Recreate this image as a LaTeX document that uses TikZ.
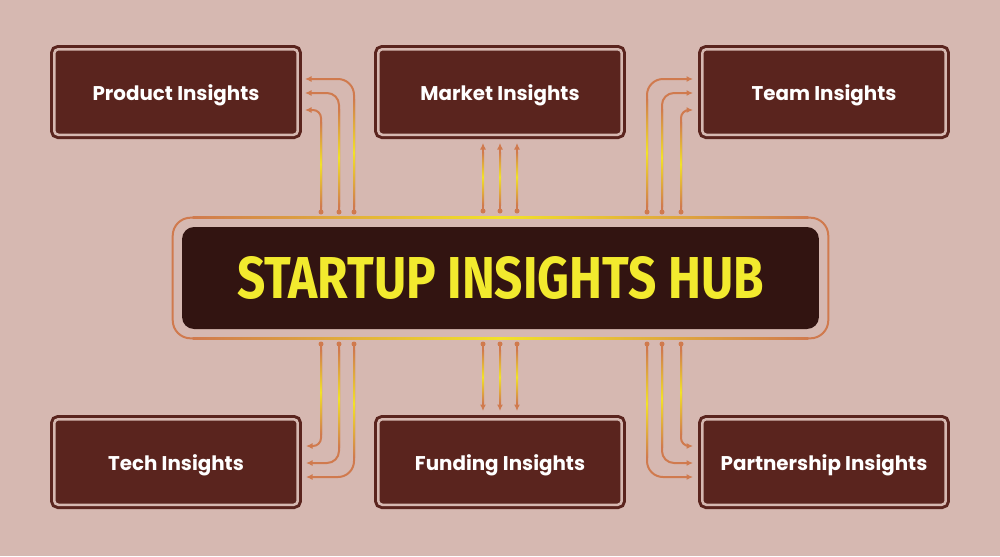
\documentclass[tikz,border=0pt]{standalone}
\usepackage{graphicx}
\usepackage{fontspec}
\setmainfont{Poppins}
\newfontfamily\hubfont{Fira Sans}
\usetikzlibrary{arrows.meta,positioning,fit}
\definecolor{pagebg}{RGB}{214,184,177}
\definecolor{boxbrown}{RGB}{90,36,30}
\definecolor{hubdark}{RGB}{50,20,17}
\definecolor{linkorange}{RGB}{208,122,78}
\definecolor{linkyellow}{RGB}{242,226,40}
\definecolor{hubyellow}{RGB}{242,234,46}

\tikzset{
  insight/.style={draw=boxbrown, line width=0.06cm, double=pagebg, double distance=0.05cm,
    fill=boxbrown, rounded corners=0.08cm, minimum width=4.87cm, minimum height=1.71cm,
    text=white, text height=0.32cm, text depth=0pt, font=\bfseries\fontsize{11.3}{13}\selectfont},
  hubbox/.style={fill=hubdark, rounded corners=0.24cm, minimum width=12.74cm,
    minimum height=2.04cm, inner sep=0pt, text=hubyellow},
  hubring/.style={draw=linkorange, line width=0.04cm, rounded corners=0.36cm,
    inner sep=0.18cm, outer sep=0pt},
  link/.style={draw=linkorange, line width=0.04cm, -{Latex[length=0.13cm,width=0.12cm]}},
  linkdot/.style={fill=linkorange},
}

\begin{document}
\begin{tikzpicture}[x=0.02cm, y=-0.02cm]
    \useasboundingbox[fill=pagebg] (0,0) rectangle (1000,556);

    % central hub
    \node[hubbox] (hub) at (500.5,278)
        {\resizebox{10.54cm}{0.84cm}{\hubfont\bfseries STARTUP INSIGHTS HUB}};
    \node[hubring, fit=(hub)] (ring) {};
    \shade[left color=linkorange, right color=linkorange, middle color=linkyellow]
        ([xshift=0.4cm,yshift=-0.02cm]ring.north west) rectangle ([xshift=-0.4cm,yshift=0.02cm]ring.north east);
    \shade[left color=linkorange, right color=linkorange, middle color=linkyellow]
        ([xshift=0.4cm,yshift=-0.02cm]ring.south west) rectangle ([xshift=-0.4cm,yshift=0.02cm]ring.south east);

    % insight boxes
    \node[insight] (prod) at (176,92) {Product Insights};
    \node[insight] (mark) at (500,92) {Market Insights};
    \node[insight] (team) at (824,92) {Team Insights};
    \node[insight] (tech) at (176,462) {Tech Insights};
    \node[insight] (fund) at (500,462) {Funding Insights};
    \node[insight] (part) at (824,462) {Partnership Insights};

    % product links
    \foreach \i/\x/\y/\r in {1/321/110/8, 2/339/93/12, 3/354/79/16} {
        \coordinate (prodA\i) at (\x,212);
        \coordinate (prodB\i) at (305,\y);
        \draw[link, rounded corners=\r*0.02cm] (prodA\i) |- (prodB\i);
        \shade[top color=linkorange, bottom color=linkorange, middle color=linkyellow]
            (\x-1,\y+\r+4) rectangle (\x+1,206);
        \fill[linkdot] (prodA\i) circle (0.05cm);
    }
    % team links
    \foreach \i/\x/\y/\r in {1/647/79/16, 2/662/93/12, 3/681/110/8} {
        \coordinate (teamA\i) at (\x,212);
        \coordinate (teamB\i) at (693,\y);
        \draw[link, rounded corners=\r*0.02cm] (teamA\i) |- (teamB\i);
        \shade[top color=linkorange, bottom color=linkorange, middle color=linkyellow]
            (\x-1,\y+\r+4) rectangle (\x+1,206);
        \fill[linkdot] (teamA\i) circle (0.05cm);
    }
    % tech links
    \foreach \i/\x/\y/\r in {1/321/446/8, 2/339/463/12, 3/354/477/16} {
        \coordinate (techA\i) at (\x,344);
        \coordinate (techB\i) at (306,\y);
        \draw[link, rounded corners=\r*0.02cm] (techA\i) |- (techB\i);
        \shade[top color=linkorange, bottom color=linkorange, middle color=linkyellow]
            (\x-1,350) rectangle (\x+1,\y-\r-4);
        \fill[linkdot] (techA\i) circle (0.05cm);
    }
    % partnership links
    \foreach \i/\x/\y/\r in {1/647/477/16, 2/662/463/12, 3/681/446/8} {
        \coordinate (partA\i) at (\x,344);
        \coordinate (partB\i) at (693,\y);
        \draw[link, rounded corners=\r*0.02cm] (partA\i) |- (partB\i);
        \shade[top color=linkorange, bottom color=linkorange, middle color=linkyellow]
            (\x-1,350) rectangle (\x+1,\y-\r-4);
        \fill[linkdot] (partA\i) circle (0.05cm);
    }
    % market and funding links
    \foreach \i/\x in {1/483, 2/500, 3/517} {
        \coordinate (markA\i) at (\x,211);
        \coordinate (markB\i) at (\x,143);
        \draw[link] (markA\i) -- (markB\i);
        \shade[top color=linkorange, bottom color=linkyellow]
            (\x-1,152) rectangle (\x+1,177);
        \shade[top color=linkyellow, bottom color=linkorange]
            (\x-1,177) rectangle (\x+1,205);
        \fill[linkdot] (markA\i) circle (0.05cm);
        \coordinate (fundA\i) at (\x,344);
        \coordinate (fundB\i) at (\x,411);
        \draw[link] (fundA\i) -- (fundB\i);
        \shade[top color=linkorange, bottom color=linkyellow]
            (\x-1,350) rectangle (\x+1,377);
        \shade[top color=linkyellow, bottom color=linkorange]
            (\x-1,377) rectangle (\x+1,403);
        \fill[linkdot] (fundA\i) circle (0.05cm);
    }
\end{tikzpicture}
\end{document}
